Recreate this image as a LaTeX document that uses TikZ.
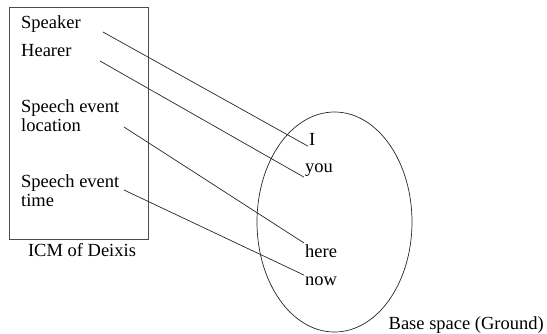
\documentclass[tikz,border=0pt]{standalone}
\usepackage{fontspec}
\setmainfont{Liberation Serif}
\usepackage{tikz}
\usetikzlibrary{positioning,calc,shapes.geometric}

\begin{document}
\begin{tikzpicture}[
    x=1pt, y=-1pt,
    lbl/.style={font=\fontsize{18.5}{18.5}\selectfont, inner sep=1pt, align=left, anchor=base west},
    link/.style={draw=black!85, line width=0.7pt}
]
    \useasboundingbox (0,0) rectangle (547,333);

    % ICM frame and its caption
    \node[draw=black!70, line width=0.7pt, minimum width=139pt, minimum height=232pt, inner sep=0pt, anchor=north west]
        (icm) at (9,7) {};
    \node[lbl, anchor=base] (icmCap) at (82,256) {ICM of Deixis};

    % Items inside the ICM
    \node[lbl] (speaker) at (20,28) {Speaker};
    \node[lbl] (hearer) at (20,56) {Hearer};
    \node[lbl] (location) at (20,131) {Speech event\\location};
    \node[lbl] (time) at (20,206) {Speech event\\time};

    % Base space (Ground)
    \node[draw=black!85, line width=0.7pt, ellipse, minimum width=155pt, minimum height=220pt, inner sep=0pt]
        (ground) at (334.5,222) {};
    \node[lbl, anchor=base east] (groundCap) at (545,329) {Base space (Ground)};

    % Deictic expressions
    \node[lbl] (i) at (308,145) {I};
    \node[lbl] (you) at (304,172) {you};
    \node[lbl] (here) at (304,257) {here};
    \node[lbl] (now) at (304,285) {now};

    % Start points of the mappings
    \coordinate (speakerEnd) at (103,32);
    \coordinate (hearerEnd) at (100,61);
    \coordinate (locationEnd) at (124,127);
    \coordinate (timeEnd) at (124,190);

    % Mappings from the ICM to the ground
    \draw[link] (speakerEnd) -- (i.south west);
    \draw[link] (hearerEnd) -- (you.south west);
    \draw[link] (locationEnd) -- (here.north west);
    \draw[link] (timeEnd) -- (now.north west);
\end{tikzpicture}
\end{document}
